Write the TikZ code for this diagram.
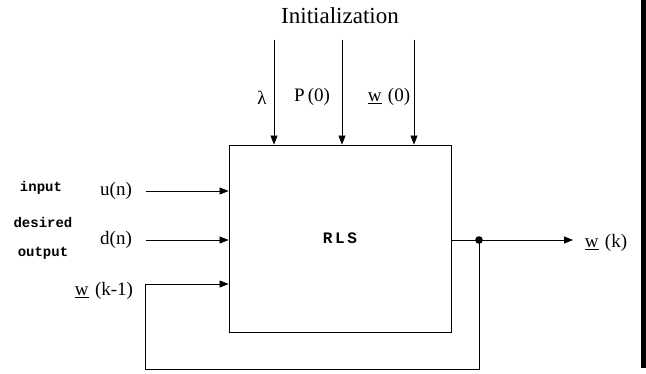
\documentclass[tikz,border=0pt]{standalone}
\usepackage{fontspec}
\setmainfont{Liberation Serif}
\newfontfamily\monof{Liberation Mono}
\usetikzlibrary{arrows.meta}
\tikzset{
  sig/.style={line width=0.8pt, -{Triangle[length=9pt,width=7pt]}},
  wire/.style={line width=0.8pt},
  lbl/.style={inner sep=0pt, font=\fontsize{19}{21}\selectfont},
  small/.style={inner sep=0pt, font=\monof\bfseries\fontsize{14}{16}\selectfont},
}
\begin{document}
\begin{tikzpicture}[x=1pt,y=-1pt]
\useasboundingbox (0,0) rectangle (646,374);
\node[draw, line width=0.9pt, minimum width=222pt, minimum height=187pt, inner sep=0pt,
  font=\monof\bfseries\fontsize{16}{18}\selectfont] (rls) at (340,238.5) {R\,L\,S};
\node[inner sep=0pt, font=\fontsize{23}{26}\selectfont] (init) at (340,16) {Initialization};
% top inputs
\coordinate (t1) at (274,40);
\coordinate (t2) at (342,40);
\coordinate (t3) at (414,40);
\draw[sig] (t1) -- (t1 |- rls.north);
\draw[sig] (t2) -- (t2 |- rls.north);
\draw[sig] (t3) -- (t3 |- rls.north);
\node[inner sep=0pt, font=\fontsize{19}{21}\selectfont] (lam) at (262,98) {λ};
\node[lbl] (p0) at (312,97) {P\,(0)};
\node[lbl] (w0) at (389,97) {\underline{w}\,\,(0)};
% left inputs
\node[small] (inp) at (41,188) {input};
\node[small] (des) at (43,222) {desired};
\node[small] (out) at (43,253) {output};
\node[lbl] (un) at (116,191) {u(n)};
\node[lbl] (dn) at (116,240) {d(n)};
\node[lbl] (wk1) at (104,291) {\underline{w}\,\,(k-1)};
\coordinate (a1) at (146,191);
\coordinate (a2) at (146,240);
\coordinate (a3) at (145,284);
\draw[sig] (a1) -- (a1 -| rls.west);
\draw[sig] (a2) -- (a2 -| rls.west);
% output and feedback
\coordinate (dot) at (479,240);
\coordinate (oend) at (573,240);
\coordinate (fb1) at (479,369);
\coordinate (fb2) at (145,369);
\draw[sig] (dot -| rls.east) -- (oend);
\fill (dot) circle (3.8pt);
\draw[wire] (dot) -- (fb1) -- (fb2) -- (a3);
\draw[sig] (a3) -- (a3 -| rls.west);
\node[lbl] (wk) at (606,243) {\underline{w}\,\,(k)};
% scan edge bar
\fill (641,0) rectangle (646,368);
\end{tikzpicture}
\end{document}
